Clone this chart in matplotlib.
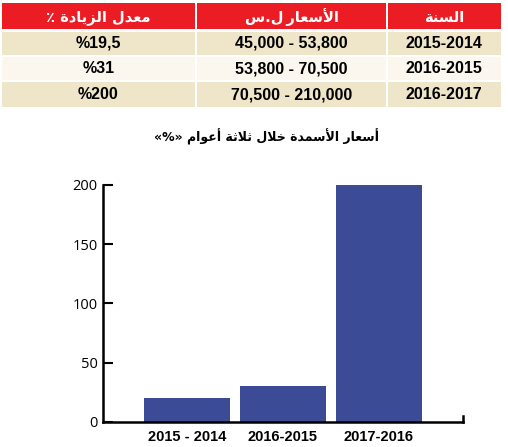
import matplotlib
matplotlib.use("Agg")
import matplotlib.pyplot as plt
from matplotlib.patches import Rectangle
from matplotlib import font_manager

# table data
header = ["معدل الزيادة ٪", "الأسعار\u2009ل.س", "السنة"]
years = ["2015-2014", "2016-2015", "2016-2017"]
price_ranges = ["45,000 - 53,800", "53,800 - 70,500", "70,500 - 210,000"]
increase_labels = ["%19,5", "%31", "%200"]

# chart data
bar_labels = ["2015 - 2014", "2016-2015", "2017-2016"]
increase_pct = [20, 30, 200]
y_ticks = [0, 50, 100, 150, 200]
title = "أسعار الأسمدة خلال ثلاثة أعوام"

RED = "#ec1c24"
BEIGE = "#efe6ca"
LIGHT = "#fbf7ef"
BAR = "#3c4b96"

# minimal arabic shaping (presentation forms) since matplotlib has no bidi/shaping
FORMS = {
    "ا": (0xFE8D, 0xFE8E), "أ": (0xFE83, 0xFE84), "ة": (0xFE93, 0xFE94),
    "د": (0xFEA9, 0xFEAA), "ر": (0xFEAD, 0xFEAE), "ز": (0xFEAF, 0xFEB0),
    "و": (0xFEED, 0xFEEE),
    "ث": (0xFE99, 0xFE9A, 0xFE9B, 0xFE9C), "خ": (0xFEA5, 0xFEA6, 0xFEA7, 0xFEA8),
    "س": (0xFEB1, 0xFEB2, 0xFEB3, 0xFEB4), "ع": (0xFEC9, 0xFECA, 0xFECB, 0xFECC),
    "ل": (0xFEDD, 0xFEDE, 0xFEDF, 0xFEE0), "م": (0xFEE1, 0xFEE2, 0xFEE3, 0xFEE4),
    "ن": (0xFEE5, 0xFEE6, 0xFEE7, 0xFEE8), "ي": (0xFEF1, 0xFEF2, 0xFEF3, 0xFEF4),
}
LAMALEF = {"ا": (0xFEFB, 0xFEFC), "أ": (0xFEF7, 0xFEF8)}


def shape(text):
    res = []
    i = 0
    n = len(text)
    while i < n:
        c = text[i]
        f = FORMS.get(c)
        if f is None:
            res.append(c)
            i += 1
            continue
        prev = text[i - 1] if i > 0 else None
        joins_prev = prev in FORMS and len(FORMS[prev]) == 4
        if c == "ل" and i + 1 < n and text[i + 1] in LAMALEF:
            lig = LAMALEF[text[i + 1]]
            res.append(chr(lig[1] if joins_prev else lig[0]))
            i += 2
            continue
        nxt = text[i + 1] if i + 1 < n else None
        joins_next = len(f) == 4 and nxt in FORMS
        if joins_prev and joins_next:
            res.append(chr(f[3]))
        elif joins_prev:
            res.append(chr(f[1]))
        elif joins_next:
            res.append(chr(f[2]))
        else:
            res.append(chr(f[0]))
        i += 1
    return "".join(res)[::-1]


names = {f.name for f in font_manager.fontManager.ttflist}
AR_FONT = "DejaVu Sans Condensed" if "DejaVu Sans Condensed" in names else "DejaVu Sans"

fig = plt.figure(figsize=(5.08, 4.47), dpi=100)

# ---- table drawn in pixel coordinates ----
tab = fig.add_axes([0, 0, 1, 1])
tab.set_xlim(0, 508)
tab.set_ylim(447, 0)
tab.axis("off")

col_edges = [(1.7, 195), (197.3, 385.7), (387.7, 501)]
row_edges = [(3.3, 29.3), (31.7, 55), (57.3, 80), (82.3, 107.3)]
row_colors = [RED, BEIGE, LIGHT, BEIGE]

for r, (y0, y1) in enumerate(row_edges):
    for c, (x0, x1) in enumerate(col_edges):
        tab.add_patch(Rectangle((x0, y0), x1 - x0, y1 - y0, color=row_colors[r], lw=0))

for c, (x0, x1) in enumerate(col_edges):
    y0, y1 = row_edges[0]
    tab.text((x0 + x1) / 2, (y0 + y1) / 2 + 1, shape(header[c]), color="white",
             fontsize=10.5, fontweight="bold", family=AR_FONT, ha="center", va="center")

for r in range(3):
    y0, y1 = row_edges[r + 1]
    yc = (y0 + y1) / 2
    for c, txt in enumerate([increase_labels[r], price_ranges[r], years[r]]):
        x0, x1 = col_edges[c]
        tab.text((x0 + x1) / 2, yc, txt, fontsize=11.5, fontweight="bold",
                 family="Liberation Sans", ha="center", va="center", color="black")

tab.text(267, 137, "«%» " + shape(title), fontsize=9, fontweight="bold",
         family=AR_FONT, ha="center", va="center", color="black")

# ---- bar chart ----
ax = fig.add_axes([103 / 508, 1 - 421.7 / 447, 360 / 508, 236.7 / 447])
x = list(range(len(increase_pct)))
ax.bar(x, increase_pct, width=0.9, color=BAR)
ax.set_xlim(-0.875, 2.875)
ax.set_ylim(0, 200)
ax.set_yticks(y_ticks)
ax.set_xticks(x)
ax.set_xticklabels(bar_labels, fontsize=10.5, fontweight="bold", family="Liberation Sans")
ax.tick_params(axis="x", length=0, pad=6)
ax.tick_params(axis="y", direction="in", length=7, width=1.5, pad=4, labelsize=10.5)
for lbl in ax.get_yticklabels():
    lbl.set_family("Open Sans")

ax.spines["top"].set_visible(False)
ax.spines["right"].set_bounds(0, 4.5)
for s in ["left", "bottom", "right"]:
    ax.spines[s].set_linewidth(1.8)
ax.patch.set_alpha(0)

fig.savefig("out.png", dpi=100)
